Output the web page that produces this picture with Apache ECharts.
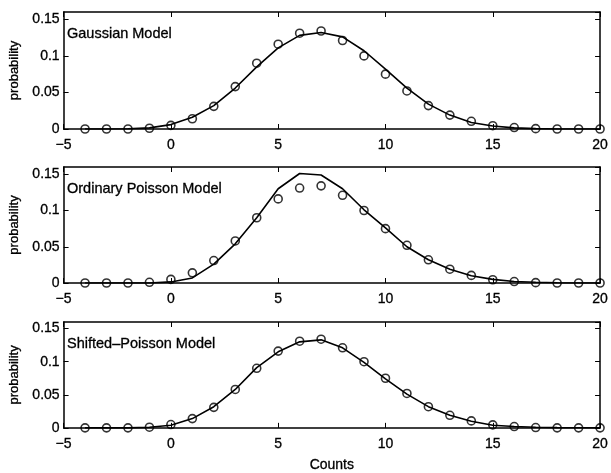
<!DOCTYPE html>
<html>
<head>
<meta charset="utf-8">
<title>Count models</title>
<script src="https://cdn.jsdelivr.net/npm/echarts@6/dist/echarts.min.js"></script>
<style>
  html, body { margin: 0; padding: 0; background: #fff; }
  #chart { width: 611px; height: 473px; }
</style>
</head>
<body>
<div id="chart"></div>
<script>
const counts = [-4, -3, -2, -1, 0, 1, 2, 3, 4, 5, 6, 7, 8, 9, 10, 11, 12, 13, 14, 15, 16, 17, 18, 19, 20]
// measured probabilities (circles), same in all three panels
const observed = [0, 0, 0, 0.001, 0.005, 0.014, 0.031, 0.058, 0.090, 0.116, 0.131, 0.134, 0.121, 0.100, 0.075, 0.052, 0.032, 0.019, 0.0105, 0.0045, 0.002, 0.0005, 0, 0, 0]
// model curves
const gaussianFit = [0, 0, 0.0003, 0.0015, 0.006, 0.016, 0.032, 0.056, 0.085, 0.111, 0.128, 0.132, 0.126, 0.107, 0.082, 0.056, 0.034, 0.019, 0.009, 0.004, 0.0015, 0.0005, 0.0001, 0, 0]
const poissonFit = [0, 0, 0, 0, 0.0015, 0.007, 0.026, 0.054, 0.090, 0.130, 0.151, 0.149, 0.130, 0.101, 0.076, 0.050, 0.032, 0.019, 0.010, 0.005, 0.002, 0.001, 0.0003, 0, 0]
const shiftedFit = [0, 0, 0, 0.0008, 0.004, 0.014, 0.032, 0.058, 0.091, 0.115, 0.130, 0.133, 0.121, 0.099, 0.074, 0.051, 0.032, 0.019, 0.010, 0.004, 0.002, 0.0008, 0.0003, 0.0001, 0]
const panelTitles = ['Gaussian Model', 'Ordinary Poisson Model', 'Shifted\u2013Poisson Model']
const xTicks = { min: -5, max: 20, step: 5 }
const yTicks = { min: 0, max: 0.16, step: 0.05 }

const fits = [gaussianFit, poissonFit, shiftedFit]
const font = '"Liberation Sans", Arial, Helvetica, sans-serif'
const ink = '#000'
const panelTops = [12, 167, 322]
const panelHeight = 116

const pairs = vals => counts.map((c, i) => [c, vals[i]])
const minus = v => (v < 0 ? '\u2212' + (-v) : String(v))

const chart = echarts.init(document.getElementById('chart'), null, { renderer: 'canvas' })

const grid = []
const xAxis = []
const yAxis = []
const series = []
const title = []

panelTops.forEach((top, k) => {
  grid.push({ left: 55, right: 8, top: top, height: panelHeight + (k === 0 ? 1 : 0) })
  const frame = { show: true, onZero: false, lineStyle: { color: ink, width: 1.5 } }
  const tick = { show: true, inside: true, length: 5, lineStyle: { color: ink, width: 1 } }
  // a hair of outline makes the text as heavy as the scanned original
  const label = { color: ink, fontSize: 14, fontFamily: font, textBorderColor: ink, textBorderWidth: 0.3 }
  // bottom / left axes carry the labels
  xAxis.push({
    type: 'value', gridIndex: k, position: 'bottom',
    min: xTicks.min, max: xTicks.max, interval: xTicks.step,
    axisLine: frame, axisTick: tick, splitLine: { show: false },
    axisLabel: Object.assign({ margin: 9, formatter: minus }, label),
    name: k === 2 ? 'Counts' : '', nameLocation: 'middle', nameGap: 30,
    nameTextStyle: label
  })
  // top / right axes only close the box and repeat the ticks
  xAxis.push({
    type: 'value', gridIndex: k, position: 'top',
    min: xTicks.min, max: xTicks.max, interval: xTicks.step,
    axisLine: frame, axisTick: tick, splitLine: { show: false }, axisLabel: { show: false }
  })
  yAxis.push({
    type: 'value', gridIndex: k, position: 'left',
    min: yTicks.min, max: yTicks.max, interval: yTicks.step,
    axisLine: frame, axisTick: tick, splitLine: { show: false },
    axisLabel: Object.assign({ margin: 4, showMaxLabel: false }, label),
    name: 'probability', nameLocation: 'middle', nameGap: 40,
    nameTextStyle: Object.assign({}, label, { fontSize: 13 })
  })
  yAxis.push({
    type: 'value', gridIndex: k, position: 'right',
    min: yTicks.min, max: yTicks.max, interval: yTicks.step,
    axisLine: frame, axisTick: tick, splitLine: { show: false }, axisLabel: { show: false }
  })

  series.push({
    type: 'line', xAxisIndex: 2 * k, yAxisIndex: 2 * k,
    data: pairs(fits[k]), showSymbol: false, silent: true,
    lineStyle: { color: ink, width: 1.6 }
  })
  series.push({
    type: 'scatter', xAxisIndex: 2 * k, yAxisIndex: 2 * k,
    data: pairs(observed), symbol: 'circle', symbolSize: 8,
    itemStyle: { color: 'rgba(0,0,0,0)', borderColor: ink, borderWidth: 1.6 }
  })

  title.push({
    text: panelTitles[k], left: 67, top: top + 14, padding: 0,
    textStyle: Object.assign({}, label, { fontWeight: 'normal', fontSize: 14.5 })
  })
})

chart.setOption({
  animation: false,
  backgroundColor: '#fff',
  title: title,
  grid: grid,
  xAxis: xAxis,
  yAxis: yAxis,
  series: series
})
</script>
</body>
</html>
